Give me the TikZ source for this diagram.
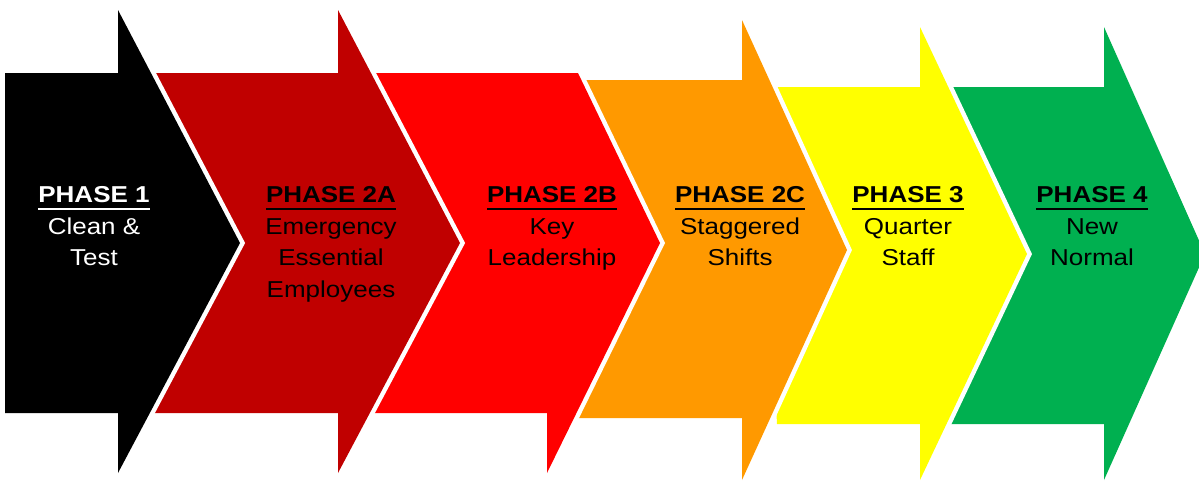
\documentclass[tikz,border=0pt]{standalone}
\usepackage{fontspec}
\setmainfont{Liberation Sans}[FakeStretch=1.13]
\usetikzlibrary{positioning}
\definecolor{darkred}{HTML}{C00000}
\definecolor{brightred}{HTML}{FF0000}
\definecolor{phaseorange}{HTML}{FF9900}
\definecolor{phaseyellow}{HTML}{FFFF00}
\definecolor{phasegreen}{HTML}{00B050}
\tikzset{chevron/.style={fill=#1, preaction={draw=white, line width=9pt, line join=miter}}}
\tikzset{phasetext/.style={anchor=north, inner sep=0pt, align=center, font=\fontsize{23}{31.5}\selectfont}}
\newcommand{\ulphase}[1]{\setbox0=\hbox{\bfseries #1}\rlap{\rule[-7pt]{\wd0}{2pt}}\box0}

\begin{document}
\begin{tikzpicture}[x=1pt,y=-1pt]
\useasboundingbox (0,0) rectangle (1199,483);
% back to front
\path[chevron=phasegreen] (940,87) -- (1104,87) -- (1104,27) -- (1205,254) -- (1104,480) -- (1104,424) -- (940,424) -- cycle;
\path[chevron=phaseyellow] (760,87) -- (920,87) -- (920,27) -- (1027,254) -- (920,480) -- (920,424) -- (777,424) -- cycle;
\path[chevron=phaseorange] (560,80) -- (742,80) -- (742,20) -- (847,250) -- (742,480) -- (742,418) -- (560,418) -- cycle;
\path[chevron=brightred] (360,73) -- (578,73) -- (660,243) -- (547,473) -- (547,413) -- (360,413) -- cycle;
\path[chevron=darkred] (140,73) -- (338,73) -- (338,10) -- (460,243) -- (338,473) -- (338,413) -- (140,413) -- cycle;
\path[chevron=black] (5,73) -- (118,73) -- (118,10) -- (240,243) -- (118,473) -- (118,413) -- (5,413) -- cycle;

\node[phasetext, white] (t1) at (94,186.5) {\ulphase{PHASE 1}\\Clean \&\\Test};
\node[phasetext] (t2a) at (331,186.5) {\ulphase{PHASE 2A}\\Emergency\\Essential\\Employees};
\node[phasetext] (t2b) at (552,186.5) {\ulphase{PHASE 2B}\\Key\\Leadership};
\node[phasetext] (t2c) at (740,186.5) {\ulphase{PHASE 2C}\\Staggered\\Shifts};
\node[phasetext] (t3) at (908,186.5) {\ulphase{PHASE 3}\\Quarter\\Staff};
\node[phasetext] (t4) at (1092,186.5) {\ulphase{PHASE 4}\\New\\Normal};
\end{tikzpicture}
\end{document}
